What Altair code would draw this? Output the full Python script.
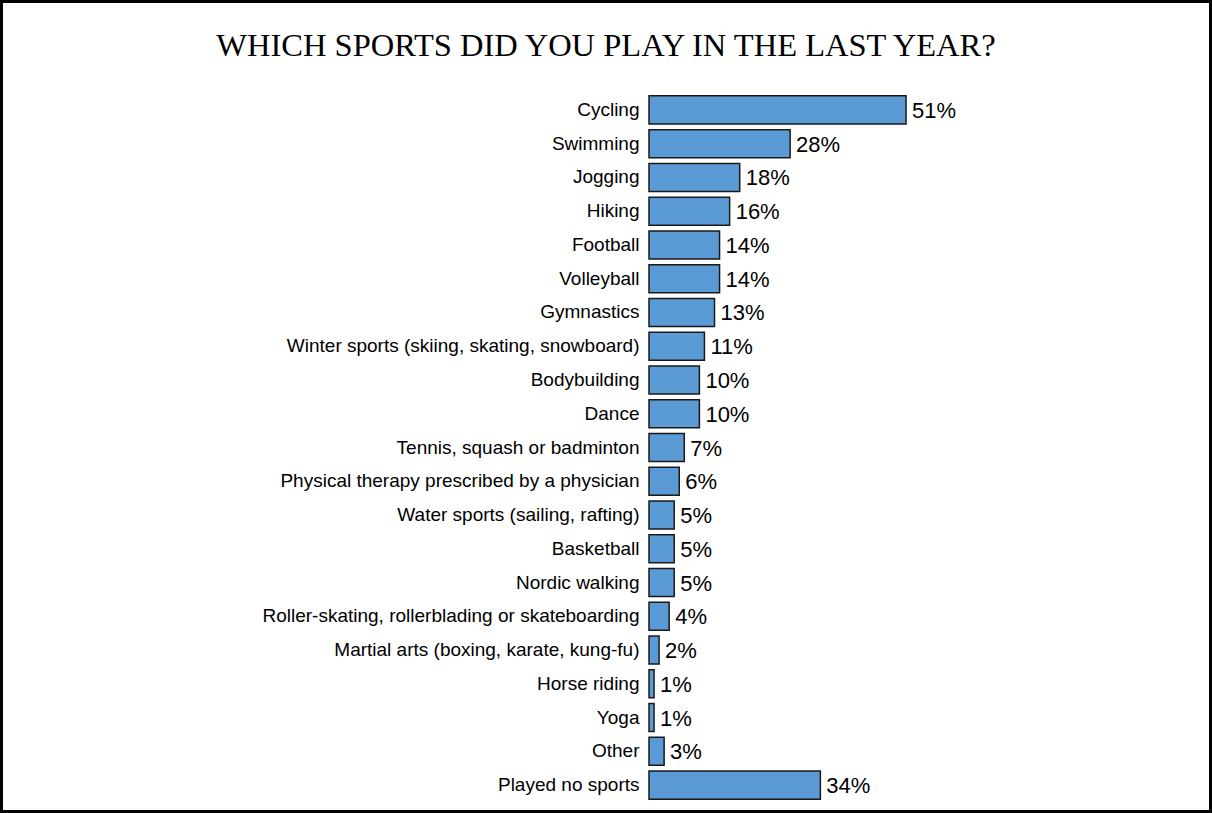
import altair as alt
import pandas as pd

categories = [
    "Cycling", "Swimming", "Jogging", "Hiking", "Football", "Volleyball",
    "Gymnastics", "Winter sports (skiing, skating, snowboard)", "Bodybuilding",
    "Dance", "Tennis, squash or badminton",
    "Physical therapy prescribed by a physician",
    "Water sports (sailing, rafting)", "Basketball", "Nordic walking",
    "Roller-skating, rollerblading or skateboarding",
    "Martial arts (boxing, karate, kung-fu)", "Horse riding", "Yoga", "Other",
    "Played no sports",
]
values = [51, 28, 18, 16, 14, 14, 13, 11, 10, 10, 7, 6, 5, 5, 5, 4, 2, 1, 1, 3, 34]
title_text = "WHICH SPORTS DID YOU PLAY IN THE LAST YEAR?"

df = pd.DataFrame({"sport": categories, "pct": values})
df["label"] = [f"{v}%" for v in values]

PAD_L, PAD_T = 649, 93
W, H = 504, 709
TOTAL_W, TOTAL_H = 1212, 813

y_enc = alt.Y(
    "sport:N",
    sort=categories,
    scale=alt.Scale(paddingInner=0.17, paddingOuter=0.085),
    axis=alt.Axis(
        title=None, domain=False, ticks=False, labelPadding=10,
        labelFontSize=19, labelFont="Liberation Sans", labelColor="#000000",
        labelLimit=600,
    ),
)
x_enc = alt.X("pct:Q", scale=alt.Scale(domain=[0, 100]), axis=None)

bars = alt.Chart(df).mark_bar(
    color="#5B9BD5", stroke="#1a1a1a", strokeWidth=1.5
).encode(x=x_enc, y=y_enc)

texts = alt.Chart(df).mark_text(
    align="left", baseline="middle", dx=6, dy=1,
    font="Liberation Sans", fontSize=22, color="#000000"
).encode(x=x_enc, y=alt.Y("sport:N", sort=categories), text="label:N")

title = alt.Chart(pd.DataFrame({"t": [title_text]})).mark_text(
    align="center", baseline="alphabetic", font="Liberation Serif",
    fontSize=32.5, color="#000000"
).encode(
    x=alt.value(TOTAL_W / 2 - PAD_L),
    y=alt.value(56 - PAD_T),
    text="t:N",
)

frame = alt.Chart(pd.DataFrame({"a": [0]})).mark_rect(
    fill=None, stroke="#000000", strokeWidth=3
).encode(
    x=alt.value(1.5 - PAD_L),
    x2=alt.value(TOTAL_W - 1.5 - PAD_L),
    y=alt.value(1.5 - PAD_T),
    y2=alt.value(TOTAL_H - 1.5 - PAD_T),
)

chart = alt.layer(bars, texts, title, frame).properties(
    width=W, height=H,
    autosize=alt.AutoSizeParams(type="none"),
    padding={"left": PAD_L, "top": PAD_T,
             "right": TOTAL_W - PAD_L - W, "bottom": TOTAL_H - PAD_T - H},
    background="white",
).configure_view(stroke=None)

chart.save("out.html", embed_options={"renderer": "svg", "actions": False})
